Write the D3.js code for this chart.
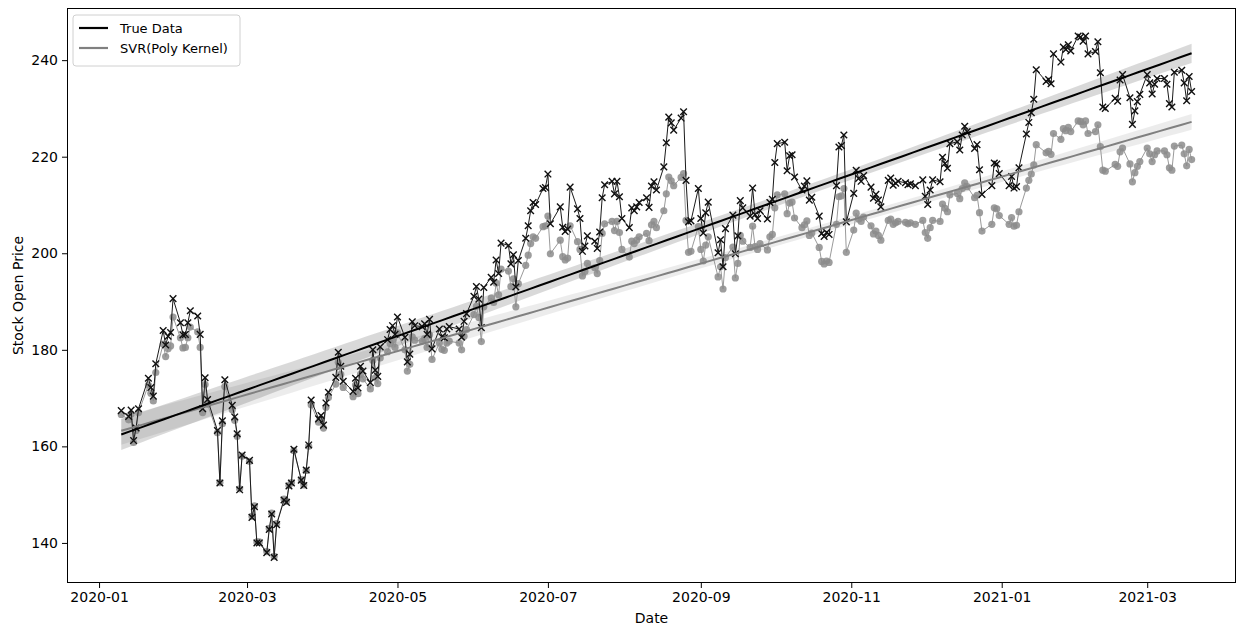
<!DOCTYPE html>
<html>
<head>
<meta charset="utf-8">
<script src="https://cdnjs.cloudflare.com/ajax/libs/d3/7.8.5/d3.min.js"></script>
<style>
  html, body { margin: 0; padding: 0; background: #fff; }
  svg { display: block; font-family: "DejaVu Sans", sans-serif; }
</style>
</head>
<body>
<svg id="chart" width="1244" height="626"></svg>
<script>
// Trading dates of the sample
const dates = [
  "2020-01-10","2020-01-13","2020-01-14","2020-01-15","2020-01-16","2020-01-17","2020-01-21","2020-01-22","2020-01-23","2020-01-24","2020-01-27","2020-01-28","2020-01-29","2020-01-30","2020-01-31",
  "2020-02-03","2020-02-04","2020-02-05","2020-02-06","2020-02-07","2020-02-10","2020-02-11","2020-02-12","2020-02-13","2020-02-14","2020-02-18","2020-02-19","2020-02-20","2020-02-21","2020-02-24","2020-02-25","2020-02-26","2020-02-27","2020-02-28",
  "2020-03-02","2020-03-03","2020-03-04","2020-03-05","2020-03-06","2020-03-09","2020-03-10","2020-03-11","2020-03-12","2020-03-13","2020-03-16","2020-03-17","2020-03-18","2020-03-19","2020-03-20","2020-03-23","2020-03-24","2020-03-25","2020-03-26","2020-03-27","2020-03-30","2020-03-31",
  "2020-04-01","2020-04-02","2020-04-03","2020-04-06","2020-04-07","2020-04-08","2020-04-09","2020-04-13","2020-04-14","2020-04-15","2020-04-16","2020-04-17","2020-04-20","2020-04-21","2020-04-22","2020-04-23","2020-04-24","2020-04-27","2020-04-28","2020-04-29","2020-04-30",
  "2020-05-01","2020-05-04","2020-05-05","2020-05-06","2020-05-07","2020-05-08","2020-05-11","2020-05-12","2020-05-13","2020-05-14","2020-05-15","2020-05-18","2020-05-19","2020-05-20","2020-05-21","2020-05-22","2020-05-26","2020-05-27","2020-05-28","2020-05-29",
  "2020-06-01","2020-06-02","2020-06-03","2020-06-04","2020-06-05","2020-06-08","2020-06-09","2020-06-10","2020-06-11","2020-06-12","2020-06-15","2020-06-16","2020-06-17","2020-06-18","2020-06-19","2020-06-22","2020-06-23","2020-06-24","2020-06-25","2020-06-26","2020-06-29","2020-06-30",
  "2020-07-01","2020-07-02","2020-07-06","2020-07-07","2020-07-08","2020-07-09","2020-07-10","2020-07-13","2020-07-14","2020-07-15","2020-07-16","2020-07-17","2020-07-20","2020-07-21","2020-07-22","2020-07-23","2020-07-24","2020-07-27","2020-07-28","2020-07-29","2020-07-30","2020-07-31",
  "2020-08-03","2020-08-04","2020-08-05","2020-08-06","2020-08-07","2020-08-10","2020-08-11","2020-08-12","2020-08-13","2020-08-14","2020-08-17","2020-08-18","2020-08-19","2020-08-20","2020-08-21","2020-08-24","2020-08-25","2020-08-26","2020-08-27","2020-08-28","2020-08-31",
  "2020-09-01","2020-09-02","2020-09-03","2020-09-04","2020-09-08","2020-09-09","2020-09-10","2020-09-11","2020-09-14","2020-09-15","2020-09-16","2020-09-17","2020-09-18","2020-09-21","2020-09-22","2020-09-23","2020-09-24","2020-09-25","2020-09-28","2020-09-29","2020-09-30",
  "2020-10-01","2020-10-02","2020-10-05","2020-10-06","2020-10-07","2020-10-08","2020-10-09","2020-10-12","2020-10-13","2020-10-14","2020-10-15","2020-10-16","2020-10-19","2020-10-20","2020-10-21","2020-10-22","2020-10-23","2020-10-26","2020-10-27","2020-10-28","2020-10-29","2020-10-30",
  "2020-11-02","2020-11-03","2020-11-04","2020-11-05","2020-11-06","2020-11-09","2020-11-10","2020-11-11","2020-11-12","2020-11-13","2020-11-16","2020-11-17","2020-11-18","2020-11-19","2020-11-20","2020-11-23","2020-11-24","2020-11-25","2020-11-27","2020-11-30",
  "2020-12-01","2020-12-02","2020-12-03","2020-12-04","2020-12-07","2020-12-08","2020-12-09","2020-12-10","2020-12-11","2020-12-14","2020-12-15","2020-12-16","2020-12-17","2020-12-18","2020-12-21","2020-12-22","2020-12-23","2020-12-24","2020-12-28","2020-12-29","2020-12-30","2020-12-31",
  "2021-01-04","2021-01-05","2021-01-06","2021-01-07","2021-01-08","2021-01-11","2021-01-12","2021-01-13","2021-01-14","2021-01-15","2021-01-19","2021-01-20","2021-01-21","2021-01-22","2021-01-25","2021-01-26","2021-01-27","2021-01-28","2021-01-29",
  "2021-02-01","2021-02-02","2021-02-03","2021-02-04","2021-02-05","2021-02-08","2021-02-09","2021-02-10","2021-02-11","2021-02-12","2021-02-16","2021-02-17","2021-02-18","2021-02-19","2021-02-22","2021-02-23","2021-02-24","2021-02-25","2021-02-26",
  "2021-03-01","2021-03-02","2021-03-03","2021-03-04","2021-03-05","2021-03-08","2021-03-09","2021-03-10","2021-03-11","2021-03-12","2021-03-15","2021-03-16","2021-03-17","2021-03-18","2021-03-19"
];

// Observed opening price
const trueOpen = [
  167.4,166.2,167.5,161.2,163.8,167.8,174.1,172.2,
  170.4,177.1,184.0,181.0,182.8,183.6,190.6,185.6,183.1,183.2,185.6,188.1,187.0,183.2,167.8,174.2,169.7,163.3,152.4,
  165.3,173.8,168.5,166.1,162.6,151.0,158.2,157.1,145.3,147.5,140.0,140.0,138.0,142.8,146.0,137.0,143.8,148.9,148.4,151.8,152.4,159.4,
  153.0,151.9,155.1,160.3,169.6,165.7,166.4,164.4,169.0,171.2,174.3,179.5,176.6,173.5,171.4,174.1,172.1,176.6,175.6,173.2,180.0,
  175.8,174.5,180.6,182.1,184.2,185.0,183.2,186.8,182.6,177.5,179.1,185.8,185.0,184.8,185.4,183.2,186.3,180.2,184.3,182.7,
  182.5,184.3,184.8,184.3,182.6,185.9,187.5,191.1,193.1,190.5,184.6,192.9,195.0,194.0,198.6,195.8,202.1,201.6,197.8,199.7,193.0,198.5,
  203.1,205.7,208.8,210.5,210.1,213.4,213.6,216.4,206.1,209.6,205.4,204.5,205.0,213.7,209.2,207.2,200.4,201.5,203.6,202.5,201.0,204.4,
  211.5,214.2,214.9,212.3,214.9,211.7,207.2,205.3,209.4,208.8,209.6,210.5,211.5,209.5,213.9,214.8,213.1,217.9,222.9,228.2,227.0,
  225.5,228.0,229.3,215.1,206.5,206.7,213.4,207.2,204.2,208.4,210.6,200.1,202.8,197.2,205.1,207.9,199.9,203.6,210.9,209.4,207.7,
  213.5,208.0,207.2,208.8,207.1,210.5,211.2,218.8,222.7,223.0,217.1,220.2,220.4,215.8,213.1,213.9,215.0,211.0,211.6,207.7,204.1,203.5,
  204.3,203.9,214.0,222.0,222.3,224.5,206.5,212.4,217.2,215.5,214.9,216.1,213.7,211.4,212.2,211.0,209.6,215.1,215.6,214.1,
  214.5,214.9,214.6,214.2,214.4,214.0,215.2,211.8,210.1,213.1,215.2,214.8,219.9,218.6,217.6,222.7,223.1,221.4,224.5,226.3,225.2,221.7,
  222.5,217.3,212.2,214.0,218.7,218.5,216.5,214.0,215.9,213.5,213.8,217.7,224.7,227.1,229.1,231.9,238.0,235.6,236.0,
  235.1,241.3,239.6,242.7,242.2,243.2,241.9,245.0,244.8,243.9,245.0,241.3,241.8,243.8,237.4,230.3,230.0,232.1,231.5,
  235.9,237.0,232.2,226.7,229.5,231.4,232.9,237.0,235.3,233.0,235.0,236.2,236.2,235.0,231.0,230.3,237.5,237.9,235.3,231.6,236.6,233.5
];

// SVR (polynomial kernel) prediction
const svrOpen = [
  166.6,165.5,166.7,160.8,163.3,167.0,172.7,171.0,
  169.4,175.3,181.2,178.6,180.2,180.8,186.8,182.5,180.4,180.5,182.5,184.7,183.7,180.5,167.0,172.8,168.7,162.8,152.5,
  164.7,172.4,167.6,165.4,162.1,151.2,158.0,156.9,145.5,147.7,140.2,140.2,138.2,143.0,146.2,137.2,144.0,149.1,148.6,151.9,152.5,159.1,
  153.1,152.0,155.0,160.0,168.6,165.0,165.7,163.8,168.1,170.1,172.9,177.4,174.9,172.2,170.3,172.7,170.9,174.9,174.0,171.9,177.8,
  174.2,173.0,178.3,179.6,181.3,182.0,180.5,183.5,180.0,175.6,177.0,182.7,182.0,181.8,182.3,180.5,183.1,178.0,181.4,180.1,
  179.9,181.4,181.8,181.4,180.0,182.8,184.2,187.3,189.0,186.7,181.7,188.9,190.7,189.8,193.8,191.4,196.7,196.3,193.1,194.7,188.9,193.7,
  197.5,199.6,202.0,203.4,203.1,205.5,205.7,207.7,199.9,202.7,199.3,198.6,199.0,205.7,202.4,200.8,195.3,196.2,197.9,197.0,195.8,198.5,
  204.1,206.1,206.6,204.7,206.6,204.3,200.8,199.2,202.5,202.0,202.7,203.4,204.1,202.6,205.9,206.6,205.3,208.8,212.3,215.8,215.0,
  214.0,215.7,216.5,206.8,200.2,200.4,205.5,200.8,198.4,201.7,203.4,195.1,197.2,192.6,199.1,201.3,194.9,197.9,203.7,202.5,201.2,
  205.6,201.4,200.8,202.0,200.7,203.4,203.9,209.4,212.1,212.3,208.2,210.4,210.6,207.3,205.3,205.9,206.7,203.7,204.2,201.2,198.3,197.8,
  198.4,198.1,206.0,211.7,211.9,213.4,200.2,204.8,208.3,207.1,206.6,207.5,205.7,204.0,204.6,203.7,202.7,206.8,207.1,206.0,
  206.3,206.6,206.4,206.1,206.3,206.0,206.8,204.3,203.1,205.3,206.8,206.6,210.2,209.3,208.6,212.1,212.4,211.3,213.4,214.6,213.8,211.5,
  212.0,208.4,204.6,206.0,209.4,209.2,207.8,206.0,207.4,205.6,205.8,208.6,213.5,215.1,216.4,218.3,222.5,220.8,221.1,
  220.5,224.8,223.6,225.8,225.4,226.1,225.2,227.4,227.3,226.6,227.4,224.8,225.2,226.6,222.1,217.2,217.0,218.4,218.0,
  221.0,221.8,218.5,214.8,216.7,218.0,219.0,221.8,220.6,219.0,220.4,221.2,221.2,220.4,217.7,217.2,222.2,222.4,220.6,218.1,221.5,219.4
];

const yTicks = [140, 160, 180, 200, 220, 240];
const xTickLabels = ["2020-01","2020-03","2020-05","2020-07","2020-09","2020-11","2021-01","2021-03"];
const seriesNames = ["True Data", "SVR(Poly Kernel)"];
const xDomain = ["2019-12-19", "2021-04-06"];
const yDomain = [131.7, 250.8];

const parse = d3.utcParse("%Y-%m-%d");
const parseMonth = d3.utcParse("%Y-%m");
const dateObjs = dates.map(parse);

const margin = { left: 67, right: 8, top: 8, bottom: 43 };
const W = 1244, H = 626;
const svg = d3.select("#chart");

const x = d3.scaleUtc().domain(xDomain.map(parse)).range([margin.left, W - margin.right]);
const y = d3.scaleLinear().domain(yDomain).range([H - margin.bottom, margin.top]);

const clipId = "plot-clip";
svg.append("defs").append("clipPath").attr("id", clipId)
  .append("rect")
  .attr("x", margin.left).attr("y", margin.top)
  .attr("width", W - margin.left - margin.right)
  .attr("height", H - margin.top - margin.bottom);

const plot = svg.append("g").attr("clip-path", `url(#${clipId})`);

// Least-squares trend with a robust (sandwich) 95% confidence band
function trend(xs, ys) {
  const n = xs.length;
  const t = xs.map(d => +d / 864e5);
  const tm = d3.mean(t), ym = d3.mean(ys);
  const tc = t.map(v => v - tm);
  const sxx = d3.sum(tc, v => v * v);
  const b = d3.sum(tc, (v, i) => v * (ys[i] - ym)) / sxx;
  const e = ys.map((v, i) => v - (ym + b * tc[i]));
  const k = n / (n - 2);
  const v00 = k * d3.sum(e, r => r * r) / (n * n);
  const v01 = k * d3.sum(e, (r, i) => r * r * tc[i]) / (n * sxx);
  const v11 = k * d3.sum(e, (r, i) => r * r * tc[i] * tc[i]) / (sxx * sxx);
  const t0 = d3.min(t), t1 = d3.max(t);
  const pts = d3.range(101).map(j => {
    const tt = t0 + (t1 - t0) * j / 100;
    const c = tt - tm;
    const fit = ym + b * c;
    const se = Math.sqrt(v00 + 2 * c * v01 + c * c * v11);
    return { date: new Date(tt * 864e5), fit, lo: fit - 1.96 * se, hi: fit + 1.96 * se };
  });
  return pts;
}

const trueTrend = trend(dateObjs, trueOpen);
const svrTrend = trend(dateObjs, svrOpen);

const area = d3.area().x(d => x(d.date)).y0(d => y(d.lo)).y1(d => y(d.hi));
const fitLine = d3.line().x(d => x(d.date)).y(d => y(d.fit));

// confidence bands
plot.append("path").attr("d", area(svrTrend)).attr("fill", "#808080").attr("fill-opacity", 0.15);
plot.append("path").attr("d", area(trueTrend)).attr("fill", "#000").attr("fill-opacity", 0.15);

const seriesLine = d3.line().x((d, i) => x(dateObjs[i])).y(d => y(d));

// SVR prediction series
plot.append("path").attr("d", seriesLine(svrOpen))
  .attr("fill", "none").attr("stroke", "#9a9a9a").attr("stroke-width", 1);
plot.append("g").selectAll("circle").data(svrOpen).join("circle")
  .attr("cx", (d, i) => x(dateObjs[i])).attr("cy", d => y(d))
  .attr("r", 3.6).attr("fill", "#8c8c8c").attr("fill-opacity", 0.85);

// observed series
plot.append("path").attr("d", seriesLine(trueOpen))
  .attr("fill", "none").attr("stroke", "#1a1a1a").attr("stroke-width", 1);
const s = 3.3;
plot.append("g").selectAll("path").data(trueOpen).join("path")
  .attr("d", (d, i) => {
    const cx = x(dateObjs[i]), cy = y(d);
    return `M${cx - s},${cy - s}L${cx + s},${cy + s}M${cx - s},${cy + s}L${cx + s},${cy - s}`;
  })
  .attr("stroke", "#111").attr("stroke-width", 1.4).attr("fill", "none");

// trend lines
plot.append("path").attr("d", fitLine(svrTrend)).attr("fill", "none")
  .attr("stroke", "#808080").attr("stroke-width", 2);
plot.append("path").attr("d", fitLine(trueTrend)).attr("fill", "none")
  .attr("stroke", "#000").attr("stroke-width", 2);

// axes
const xAxis = d3.axisBottom(x)
  .tickValues(xTickLabels.map(parseMonth))
  .tickFormat(d3.utcFormat("%Y-%m"))
  .tickSize(5).tickPadding(4);
const gx = svg.append("g").attr("transform", `translate(0,${H - margin.bottom})`).call(xAxis);

const yAxis = d3.axisLeft(y).tickValues(yTicks).tickSize(5).tickPadding(4);
const gy = svg.append("g").attr("transform", `translate(${margin.left},0)`).call(yAxis);

[gx, gy].forEach(g => {
  g.select(".domain").remove();
  g.selectAll("line").attr("stroke", "#000").attr("stroke-width", 1);
  g.selectAll("text").attr("fill", "#000").style("font-size", "14px").style("font-family", "DejaVu Sans, sans-serif");
});

// frame
svg.append("rect")
  .attr("x", margin.left + 0.5).attr("y", margin.top + 0.5)
  .attr("width", W - margin.left - margin.right - 1)
  .attr("height", H - margin.top - margin.bottom - 1)
  .attr("fill", "none").attr("stroke", "#000").attr("stroke-width", 1);

// axis titles
svg.append("text").attr("x", (margin.left + W - margin.right) / 2).attr("y", 623)
  .attr("text-anchor", "middle").style("font-size", "14px").text("Date");
svg.append("text").attr("transform", `translate(23,${(margin.top + H - margin.bottom) / 2}) rotate(-90)`)
  .attr("text-anchor", "middle").style("font-size", "14px").text("Stock Open Price");

// legend
const lg = svg.append("g").attr("transform", "translate(73,15)");
lg.append("rect").attr("width", 167).attr("height", 51).attr("rx", 3)
  .attr("fill", "#fff").attr("fill-opacity", 0.8).attr("stroke", "#d0d0d0");
const legendColors = ["#000", "#808080"];
seriesNames.forEach((name, i) => {
  const yy = 13 + i * 20;
  lg.append("line").attr("x1", 6).attr("x2", 35).attr("y1", yy).attr("y2", yy)
    .attr("stroke", legendColors[i]).attr("stroke-width", 2.2);
  lg.append("text").attr("x", 47).attr("y", yy + 4.5).style("font-size", "13px").text(name);
});
</script>
</body>
</html>
